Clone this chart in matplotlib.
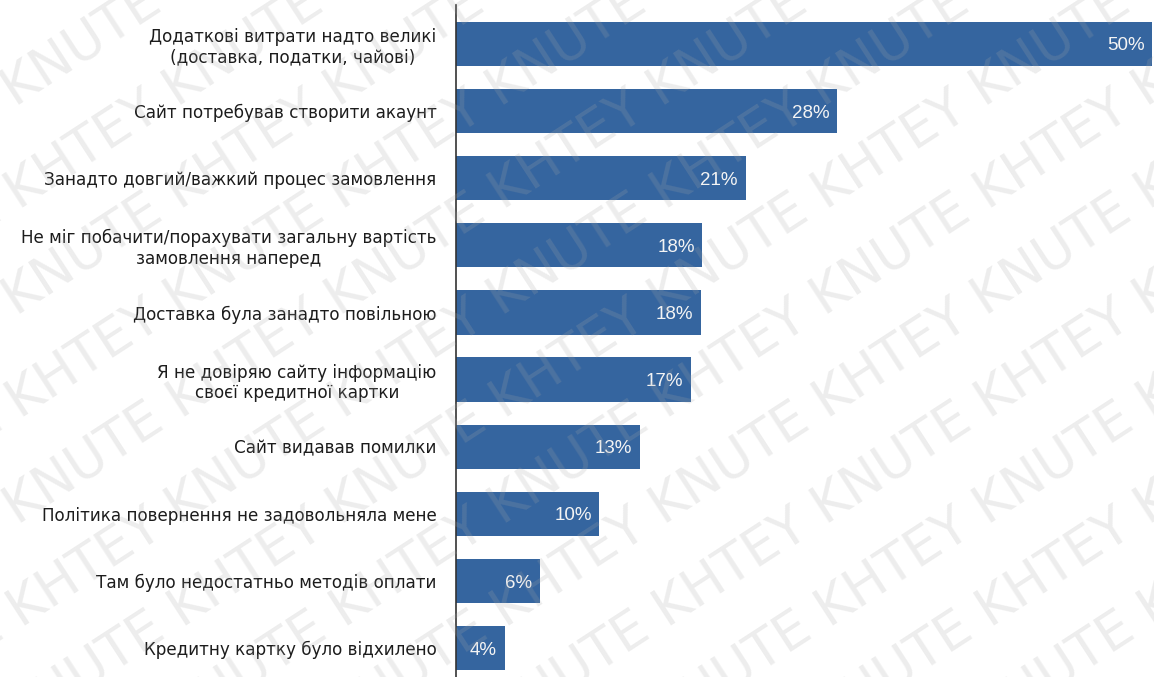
import matplotlib
matplotlib.use("Agg")
import matplotlib.pyplot as plt

reasons = [
    "Додаткові витрати надто великі\n(доставка, податки, чайові)",
    "Сайт потребував створити акаунт",
    "Занадто довгий/важкий процес замовлення",
    "Не міг побачити/порахувати загальну вартість\nзамовлення наперед",
    "Доставка була занадто повільною",
    "Я не довіряю сайту інформацію\nсвоєї кредитної картки",
    "Сайт видавав помилки",
    "Політика повернення не задовольняла мене",
    "Там було недостатньо методів оплати",
    "Кредитну картку було відхилено",
]
shares = [50, 27.4, 20.8, 17.7, 17.6, 16.9, 13.2, 10.3, 6.0, 3.5]
share_labels = ["50%", "28%", "21%", "18%", "18%", "17%", "13%", "10%", "6%", "4%"]

W, H = 1154, 677
fig = plt.figure(figsize=(W / 100, H / 100), dpi=100)
ax = fig.add_axes([456 / W, 0, (1152 - 456) / W, 672 / H])

pos = list(range(len(reasons)))
ax.barh(pos, shares, height=0.66, color="#35659f", zorder=2)
for y, v, lab in zip(pos, shares, share_labels):
    ax.text(v - 0.55, y + 0.03, lab, ha="right", va="center", color="#f4f4f4",
            fontsize=13.5, family="Liberation Sans", zorder=3)

ax.set_xlim(0, 50)
ax.set_ylim(9.43, -0.58)
ax.set_yticks(pos)
ax.set_yticklabels(reasons, fontsize=12.1, color="#1c1c1c", multialignment="center")
ax.tick_params(axis="y", length=0, pad=14)
ax.set_xticks([])
for side in ["top", "right", "bottom"]:
    ax.spines[side].set_visible(False)
ax.spines["left"].set_color("#333333")
ax.spines["left"].set_linewidth(1.2)
ax.patch.set_alpha(0)

# faint diagonal watermark, clipped to the figure
wm = fig.add_axes([0, 0, 1, 1], zorder=5)
wm.set_axis_off()
wm.set_xlim(0, 1)
wm.set_ylim(0, 1)
mark = "KHTEY KNUTE " * 6
for k in range(-8, 10):
    wm.text(k * 0.14, -0.25, mark, rotation=33, fontsize=38, color="#a8a8a8",
            alpha=0.2, ha="left", va="bottom", clip_on=True)

fig.savefig("out.png", dpi=100)
